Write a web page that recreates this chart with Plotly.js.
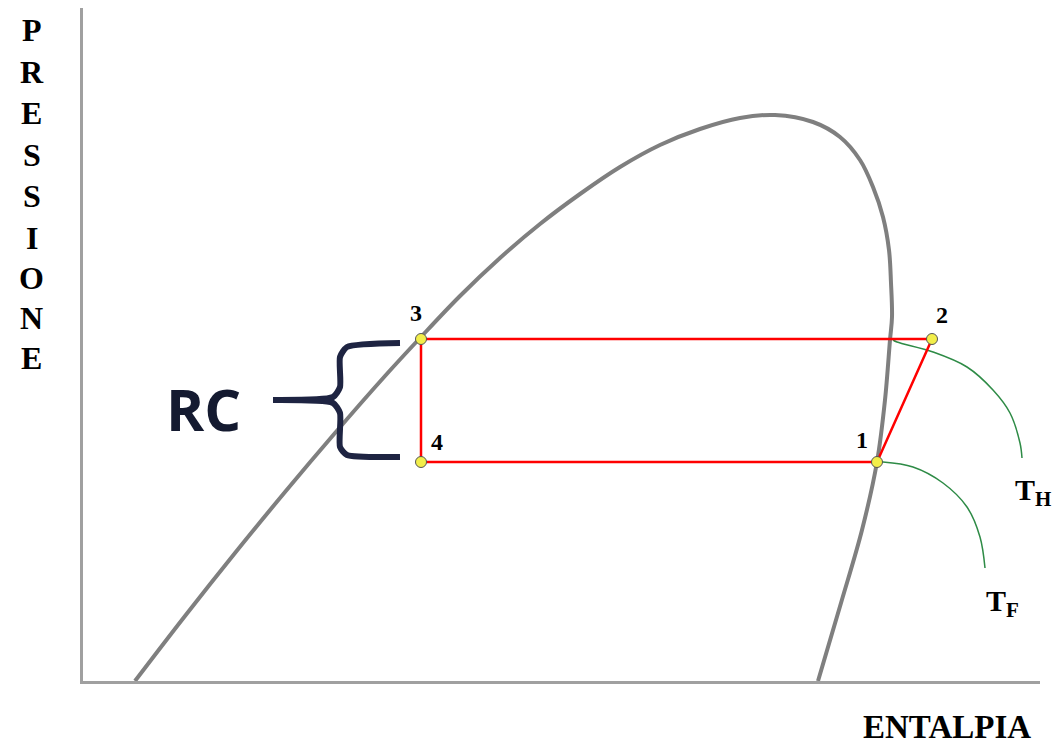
<!DOCTYPE html>
<html><head><meta charset="utf-8">
<script src="https://cdn.plot.ly/plotly-3.0.1.min.js"></script>
<style>html,body{margin:0;padding:0;background:#fff}#chart{width:1061px;height:746px}</style>
</head><body><div id="chart"></div>
<script>
// Saturation dome (enthalpy, pressure) in arbitrary units
const domeH = [52,102,152,202,252,302,337,377,417,457,497,537,577,617,657,692,730,757,777,790,800,806,808,809,807,802,794,779,758,735];
const domeP = [0,65,128,189,248,305,343,385,423,457,487,514,536,552,563,566,559,544,521,494,464,431,398,364,341,281,219,151,78,0];
// Cycle points 3,2,1,4 (closed)
const cycleH = [338,849,794,338,338];
const cycleP = [342,342,219,219,342];
const cycleLabels = ['3','2','1','4'];
const labelH = [333,859,779,354];
const labelP = [368,366,241,239];
// Isotherms
const thH = [810,814,850,884,910,927,937,939];
const thP = [341,339,329,314,291,268,238,223];
const tfH = [794,800,830,860,884,897,902];
const tfP = [219,219,214,198,174,144,113];
// Brace (RC)
const braceTopH = [317,264,257,257,250,190];
const braceTopP = [338,334,324,294,284,281];
const braceBotH = [190,250,257,257,264,317];
const braceBotP = [281,278,268,234,226,224];
// Axis titles
const yLetters = ['P','R','E','S','S','I','O','N','E'];
const yLetterPos = [0.967,0.905,0.844,0.782,0.721,0.658,0.599,0.539,0.480];
const xTitle = 'ENTALPIA';

const serif = 'Liberation Serif, Times New Roman, serif';
const traces = [
 {x:domeH,y:domeP,mode:'lines',line:{color:'#7f7f7f',width:4,shape:'spline',smoothing:1},hoverinfo:'skip'},
 {x:thH,y:thP,mode:'lines',line:{color:'#2e8b46',width:1.5,shape:'spline'},hoverinfo:'skip'},
 {x:tfH,y:tfP,mode:'lines',line:{color:'#2e8b46',width:1.5,shape:'spline'},hoverinfo:'skip'},
 {x:cycleH,y:cycleP,mode:'lines',line:{color:'#ff0000',width:2.5},hoverinfo:'skip'},
 {x:cycleH.slice(0,4),y:cycleP.slice(0,4),mode:'markers',marker:{symbol:'circle',size:11,color:'#f2ee4a',line:{color:'#555',width:1}},hoverinfo:'skip'},
 {x:braceTopH,y:braceTopP,mode:'lines',line:{color:'#1e2442',width:6,shape:'spline',smoothing:0.6},hoverinfo:'skip'},
 {x:braceBotH,y:braceBotP,mode:'lines',line:{color:'#1e2442',width:6,shape:'spline',smoothing:0.6},hoverinfo:'skip'}
];
const ann = [];
cycleLabels.forEach((t,i)=>ann.push({x:labelH[i],y:labelP[i],text:t,showarrow:false,font:{family:serif,size:24,color:'#000',weight:'bold'}}));
yLetters.forEach((t,i)=>ann.push({xref:'paper',yref:'paper',x:-0.0533,y:yLetterPos[i],xanchor:'center',yanchor:'middle',text:t,showarrow:false,font:{family:serif,size:32,color:'#000',weight:'bold'}}));
ann.push({xref:'paper',yref:'paper',x:0.903,y:-0.0684,xanchor:'center',yanchor:'middle',text:xTitle,showarrow:false,font:{family:serif,size:33,color:'#000',weight:'bold'}});
ann.push({x:950,y:189,text:'T<sub>H</sub>',showarrow:false,font:{family:serif,size:30,color:'#000',weight:'bold'}});
ann.push({x:919,y:78,text:'T<sub>F</sub>',showarrow:false,font:{family:serif,size:30,color:'#000',weight:'bold'}});
ann.push({x:120,y:273,text:'RC',showarrow:false,font:{family:'Open Sans, sans-serif',size:58,color:'#141a30',weight:'bold'}});

const layout = {
 width:1061,height:746,showlegend:false,
 paper_bgcolor:'#fff',plot_bgcolor:'#fff',
 margin:{l:83,r:21,t:8,b:65},
 xaxis:{range:[0,957],showline:true,linecolor:'#a0a0a0',linewidth:3,showgrid:false,zeroline:false,showticklabels:false,ticks:''},
 yaxis:{range:[0,673],showline:true,linecolor:'#a0a0a0',linewidth:3,showgrid:false,zeroline:false,showticklabels:false,ticks:''},
 annotations:ann
};
Plotly.newPlot('chart',traces,layout,{displayModeBar:false,staticPlot:true});
</script></body></html>
